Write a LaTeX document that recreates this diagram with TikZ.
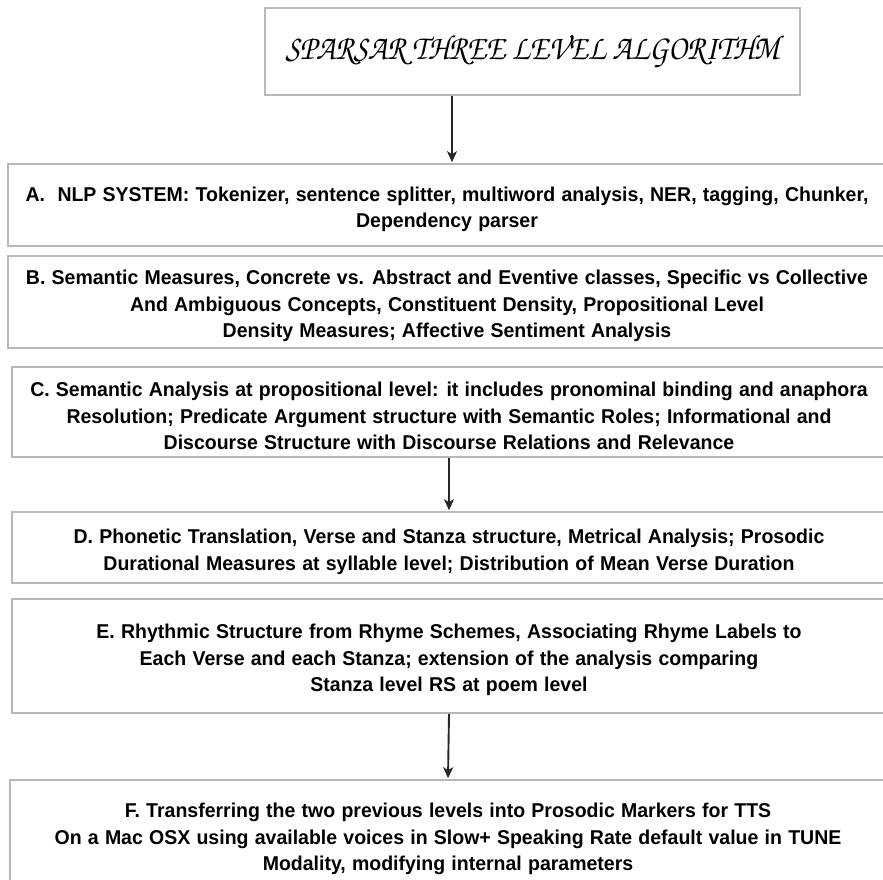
\documentclass[tikz,border=0pt]{standalone}
\usepackage[T1]{fontenc}
\usepackage{fontspec}
\setmainfont{Liberation Sans}[FakeStretch=0.975,WordSpace=1.15]
\usetikzlibrary{arrows.meta}
\newcommand\topgap{\rule{0pt}{23pt}}
\begin{document}
\begin{tikzpicture}[x=1pt,y=1pt,>={Stealth[length=11pt,width=10pt,inset=3pt]},font=\bfseries\fontsize{20}{26.5}\selectfont]
      \tikzset{box/.style={draw=gray!55, line width=1.6pt, inner sep=0pt, align=center},
               arr/.style={->, line width=1.9pt, draw=black!85, shorten >=1pt}}
      \useasboundingbox (0,0) rectangle (883,880);
      \node[box, minimum width=535pt, minimum height=87pt, font=\usefont{T1}{pzc}{mb}{it}\fontsize{35}{40}\selectfont] (ttl) at (532.5,828.5) {\scalebox{0.88}[1]{SPARSAR THREE LEVEL ALGORITHM}};
      \node[box, minimum width=878pt, minimum height=82pt] (nlp) at (447,675) {\topgap A.\ \ NLP SYSTEM: Tokenizer, sentence splitter, multiword analysis, NER, tagging, Chunker,\\Dependency parser};
      \node[box, minimum width=878pt, minimum height=92pt] (sem) at (447,578) {\topgap B. Semantic Measures, Concrete vs. Abstract and Eventive classes, Specific vs Collective\\And Ambiguous Concepts, Constituent Density, Propositional Level\\Density Measures; Affective Sentiment Analysis};
      \node[box, minimum width=874pt, minimum height=90pt] (prop) at (449,468) {\topgap C. Semantic Analysis at propositional level: it includes pronominal binding and anaphora\\Resolution; Predicate Argument structure with Semantic Roles; Informational and\\Discourse Structure with Discourse Relations and Relevance};
      \node[box, minimum width=874pt, minimum height=71pt] (phon) at (449,332.5) {\topgap D. Phonetic Translation, Verse and Stanza structure, Metrical Analysis; Prosodic\\Durational Measures at syllable level; Distribution of Mean Verse Duration};
      \node[box, minimum width=874pt, minimum height=114pt] (rhy) at (449,224) {\topgap E. Rhythmic Structure from Rhyme Schemes, Associating Rhyme Labels to\\Each Verse and each Stanza; extension of the analysis comparing\\Stanza level RS at poem level};
      \node[box, minimum width=876pt, minimum height=110pt] (tts) at (448,45) {\topgap F. Transferring the two previous levels into Prosodic Markers for TTS\\On a Mac OSX using available voices in Slow+ Speaking Rate default value in TUNE\\Modality, modifying internal parameters};
      \draw[arr] (ttl.south -| 452,0) -- (nlp.north -| 452,0);
      \draw[arr] (prop.south) -- (phon.north);
      \draw[arr] (rhy.south) -- (tts.north);
    \end{tikzpicture}
\end{document}
